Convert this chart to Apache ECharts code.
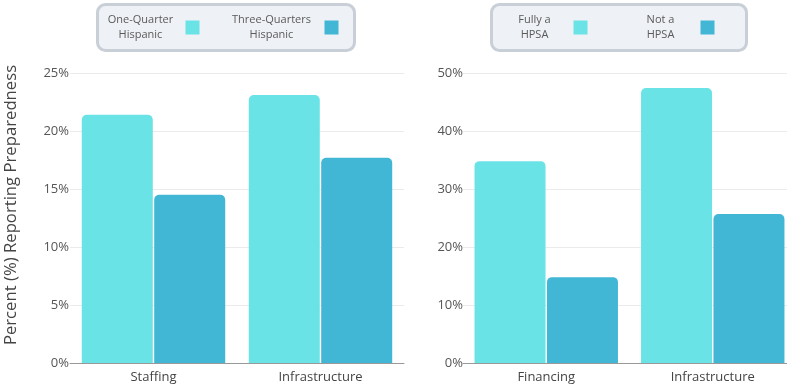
<!DOCTYPE html>
<html>
<head>
<meta charset="utf-8">
<script src="https://cdn.jsdelivr.net/npm/echarts@6/dist/echarts.min.js"></script>
<style>
  html, body { margin: 0; padding: 0; background: #fff; }
  #chart { width: 787px; height: 388px; }
</style>
</head>
<body>
<div id="chart"></div>
<script>
  // left panel
  const leftCategories = ['Staffing', 'Infrastructure'];
  const leftLegendLines = [['One-Quarter', 'Hispanic'], ['Three-Quarters', 'Hispanic']];
  const oneQuarter = [21.4, 23.1];
  const threeQuarters = [14.5, 17.7];
  const leftTicks = { min: 0, max: 25, interval: 5 };

  // right panel
  const rightCategories = ['Financing', 'Infrastructure'];
  const rightLegendLines = [['Fully a', 'HPSA'], ['Not a', 'HPSA']];
  const fullyHpsa = [34.8, 47.4];
  const notHpsa = [14.8, 25.7];
  const rightTicks = { min: 0, max: 50, interval: 10 };

  const yName = 'Percent (%) Reporting Preparedness';

  const font = '"Open Sans", "DejaVu Sans", sans-serif';
  const light = '#6ae3e7';
  const dark = '#42b6d5';

  const leftNames = leftLegendLines.map(l => l.join(' '));
  const rightNames = rightLegendLines.map(l => l.join(' '));
  const allLines = {};
  leftNames.forEach((n, i) => allLines[n] = leftLegendLines[i]);
  rightNames.forEach((n, i) => allLines[n] = rightLegendLines[i]);

  // rich-style key per legend item, so the two lines centre on each other
  const legendKey = {};
  legendKey[leftNames[0]] = 'w80';
  legendKey[leftNames[1]] = 'w96';
  legendKey[rightNames[0]] = 'w68';
  legendKey[rightNames[1]] = 'w70';

  function txt(w) {
    return { width: w, align: 'center', fontSize: 11, lineHeight: 15, color: '#5a5a5a', fontFamily: font };
  }

  function legend(names, left, padding, gap) {
    return {
      data: names,
      left: left,
      top: 4.5,
      orient: 'horizontal',
      align: 'right',
      icon: 'rect',
      itemWidth: 14,
      itemHeight: 14,
      itemGap: gap,
      padding: padding,
      backgroundColor: '#eef1f5',
      borderColor: '#c9cfd6',
      borderWidth: 3,
      borderRadius: 8,
      selectedMode: false,
      formatter: function (name) {
        const k = legendKey[name];
        return allLines[name].map(l => '{' + k + '|' + l + '}').join('\n');
      },
      textStyle: {
        fontFamily: font,
        fontSize: 11,
        lineHeight: 15,
        rich: { w80: txt(80), w96: txt(96), w68: txt(68), w70: txt(70) }
      }
    };
  }

  function xAxis(idx, cats) {
    return {
      type: 'category',
      gridIndex: idx,
      data: cats,
      axisTick: { show: false },
      axisLine: { lineStyle: { color: '#999', width: 1 } },
      axisLabel: { color: '#444', fontSize: 13, fontFamily: font, margin: 8 }
    };
  }

  function yAxis(idx, t, margin) {
    return {
      type: 'value',
      gridIndex: idx,
      min: t.min, max: t.max, interval: t.interval,
      axisLine: { show: false },
      axisTick: { show: false },
      splitLine: { lineStyle: { color: '#ebebeb', width: 1 } },
      axisLabel: { formatter: '{value}%', color: '#555', fontSize: 13, fontFamily: font, margin: margin }
    };
  }

  function bar(name, data, idx, color) {
    return {
      name: name,
      type: 'bar',
      xAxisIndex: idx,
      yAxisIndex: idx,
      data: data,
      barWidth: 71,
      barGap: '2%',
      itemStyle: { color: color, borderRadius: [5, 5, 0, 0] }
    };
  }

  const chart = echarts.init(document.getElementById('chart'));
  const leftY = yAxis(0, leftTicks, 1);
  leftY.name = yName;
  leftY.nameLocation = 'middle';
  leftY.nameGap = 50;
  leftY.nameTextStyle = { fontSize: 16.7, color: '#444', fontFamily: font, padding: [0, 0, 0, 26] };

  chart.setOption({
    animation: false,
    color: [light, dark, light, dark],
    legend: [
      legend(leftNames, 97.5, [8, 16, 8, 3], 24),
      legend(rightNames, 491.5, [8, 32, 8, 9], 38)
    ],
    grid: [
      { left: 70, top: 73, width: 334, height: 290, outerBoundsMode: 'none' },
      { left: 463, top: 73, width: 333, height: 290, outerBoundsMode: 'none' }
    ],
    xAxis: [xAxis(0, leftCategories), xAxis(1, rightCategories)],
    yAxis: [leftY, yAxis(1, rightTicks, 0)],
    series: [
      bar(leftNames[0], oneQuarter, 0, light),
      bar(leftNames[1], threeQuarters, 0, dark),
      bar(rightNames[0], fullyHpsa, 1, light),
      bar(rightNames[1], notHpsa, 1, dark)
    ]
  });
</script>
</body>
</html>
